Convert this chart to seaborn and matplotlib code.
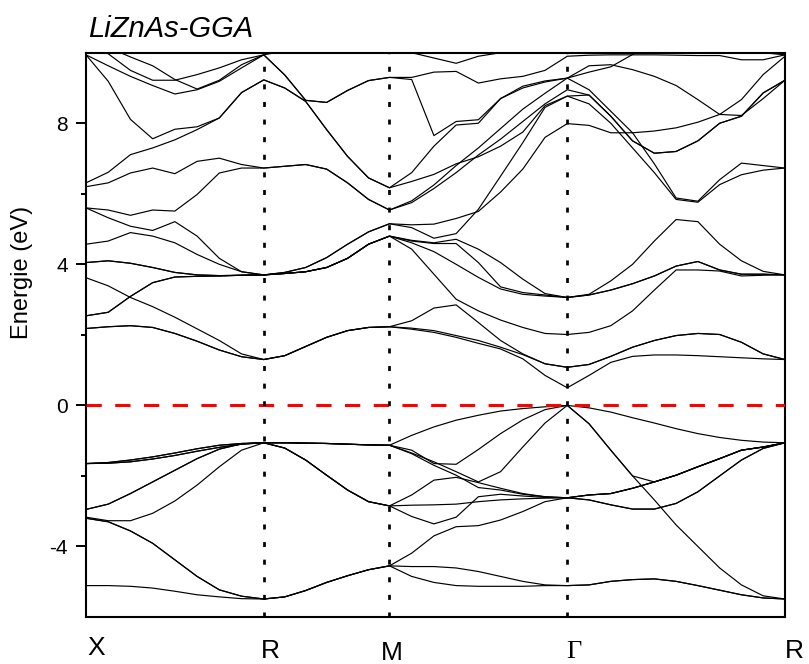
import numpy as np
import pandas as pd
import seaborn as sns
import matplotlib.pyplot as plt

# High symmetry path X-R-M-G-R (units of 2pi/a)
sym_labels = ['X', 'R', 'M', 'Γ', 'R']
sym_pos = [0.0, 0.7071, 1.2071, 1.9142, 2.7802]
n_steps = [8, 6, 8, 10]

# ---- valence bands, segment by segment (eV) ----
# X -> R (9 points)
xr_A = [-1.65, -1.62, -1.55, -1.46, -1.35, -1.23, -1.13, -1.08, -1.06]
xr_B = [-1.65, -1.64, -1.60, -1.52, -1.42, -1.30, -1.19, -1.10, -1.06]
xr_C = [-2.95, -2.80, -2.50, -2.17, -1.84, -1.51, -1.24, -1.09, -1.06]
xr_D = [-3.17, -3.27, -3.27, -3.06, -2.71, -2.26, -1.74, -1.27, -1.06]
xr_E = [-3.20, -3.30, -3.56, -3.91, -4.38, -4.85, -5.23, -5.41, -5.49]
xr_F = [-5.11, -5.11, -5.13, -5.18, -5.27, -5.37, -5.43, -5.48, -5.49]
# R -> M (6 points after R)
rm_top = [-1.06, -1.07, -1.08, -1.10, -1.12, -1.13]
rm_down = [-1.21, -1.55, -1.98, -2.40, -2.73, -2.85]
rm_bot = [-5.43, -5.25, -5.02, -4.83, -4.66, -4.55]
# M -> Gamma (8 points after M)
mg_L1 = [-0.85, -0.61, -0.42, -0.28, -0.16, -0.09, -0.04, 0.00]
mg_L2 = [-1.27, -1.65, -1.67, -1.25, -0.80, -0.41, -0.12, 0.00]
mg_L3 = [-1.35, -1.60, -1.88, -2.17, -1.88, -1.18, -0.50, 0.00]
mg_L4 = [-1.37, -1.70, -1.98, -2.33, -2.40, -2.52, -2.59, -2.62]
mg_L5 = [-2.54, -2.12, -2.04, -2.19, -2.35, -2.50, -2.59, -2.62]
mg_L6 = [-2.83, -2.82, -2.80, -2.73, -2.68, -2.65, -2.63, -2.62]
mg_L7 = [-3.15, -3.36, -3.17, -2.59, -2.52, -2.57, -2.61, -2.62]
mg_L8 = [-4.19, -3.70, -3.44, -3.41, -3.25, -3.01, -2.73, -2.62]
mg_L9 = [-4.57, -4.57, -4.61, -4.71, -4.85, -4.99, -5.09, -5.11]
mg_L10 = [-4.85, -5.02, -5.11, -5.13, -5.13, -5.13, -5.11, -5.11]
# Gamma -> R (10 points after Gamma)
gr_G1 = [-0.07, -0.19, -0.35, -0.50, -0.66, -0.80, -0.91, -0.99, -1.04, -1.06]
gr_G2 = [-0.52, -1.27, -2.00, -2.68, -3.39, -4.00, -4.61, -5.09, -5.40, -5.49]
gr_G2b = [-0.52, -1.27, -2.00, -2.17, -1.98, -1.74, -1.51, -1.27, -1.18, -1.06]
gr_G3 = [-2.54, -2.50, -2.35, -2.17, -1.98, -1.74, -1.51, -1.27, -1.18, -1.06]
gr_G4 = [-2.68, -2.82, -2.94, -2.94, -2.78, -2.45, -2.00, -1.55, -1.22, -1.06]
gr_G5 = [-5.09, -4.99, -4.94, -4.92, -4.99, -5.11, -5.24, -5.37, -5.46, -5.49]

# ---- conduction bands ----
xr_P = [2.18, 2.23, 2.26, 2.21, 2.04, 1.82, 1.57, 1.38, 1.30]
xr_S = [3.62, 3.39, 3.06, 2.80, 2.50, 2.17, 1.84, 1.46, 1.30]
xr_Q = [2.54, 2.64, 3.09, 3.48, 3.64, 3.66, 3.67, 3.69, 3.70]
xr_T = [4.05, 4.10, 4.03, 3.91, 3.77, 3.70, 3.68, 3.69, 3.70]
xr_U = [4.57, 4.66, 4.90, 4.80, 4.61, 4.28, 4.00, 3.79, 3.70]
xr_V = [5.60, 5.32, 5.08, 4.96, 5.21, 4.80, 4.17, 3.79, 3.70]
xr_W = [5.60, 5.54, 5.39, 5.54, 5.51, 5.98, 6.59, 6.73, 6.73]
xr_3 = [6.20, 6.31, 6.59, 6.73, 6.57, 6.92, 7.01, 6.83, 6.73]
xr_2 = [6.31, 6.61, 7.11, 7.30, 7.53, 7.82, 8.15, 8.87, 9.23]
xr_1 = [9.94, 9.19, 8.11, 7.56, 7.83, 7.90, 8.15, 8.87, 9.23]
xr_5 = [9.94, 9.63, 9.33, 9.07, 8.83, 8.95, 9.19, 9.57, 9.94]
xr_6 = [10.20, 9.97, 9.50, 9.22, 9.22, 9.38, 9.57, 9.80, 9.94]
xr_7 = [10.40, 10.15, 9.88, 9.63, 9.24, 8.97, 9.22, 9.66, 9.94]

rm_a = [1.41, 1.67, 1.93, 2.12, 2.21, 2.23]
rm_b = [3.74, 3.79, 3.91, 4.17, 4.57, 4.80]
rm_c = [3.77, 3.91, 4.19, 4.57, 4.92, 5.15]
rm_d = [6.78, 6.83, 6.70, 6.31, 5.84, 5.54]
rm_e = [9.00, 8.62, 7.82, 7.06, 6.45, 6.17]
rm_f = [9.37, 8.65, 8.59, 8.93, 9.21, 9.30]
rm_g = [10.05, 10.10, 10.10, 10.10, 10.10, 10.10]

mg_c1 = [2.16, 2.07, 1.93, 1.76, 1.60, 1.32, 0.85, 0.50]
mg_c2 = [2.19, 2.12, 1.98, 1.84, 1.65, 1.44, 1.18, 1.08]
mg_c3 = [2.40, 2.76, 2.85, 2.35, 1.84, 1.46, 1.18, 1.08]
mg_c4 = [4.43, 3.72, 3.01, 2.68, 2.42, 2.21, 2.04, 2.01]
mg_c5 = [4.61, 4.36, 4.00, 3.63, 3.30, 3.15, 3.10, 3.06]
mg_c6 = [4.66, 4.59, 4.59, 4.05, 3.36, 3.20, 3.13, 3.06]
mg_c7 = [4.68, 4.61, 4.71, 4.43, 4.05, 3.58, 3.17, 3.06]
mg_c8 = [5.04, 4.74, 4.87, 5.56, 6.50, 7.45, 8.45, 8.77]
mg_c9 = [5.12, 5.14, 5.30, 5.50, 6.05, 6.70, 7.60, 7.99]
mg_f1 = [5.80, 6.25, 6.80, 7.30, 7.85, 8.40, 8.85, 9.28]
mg_f2 = [5.75, 6.15, 6.60, 7.10, 7.55, 8.05, 8.55, 8.95]
mg_f3 = [6.60, 7.35, 7.95, 8.00, 8.70, 9.00, 9.17, 9.28]
mg_f4 = [6.35, 6.55, 6.85, 7.05, 7.35, 7.75, 8.50, 8.77]
mg_u1 = [9.24, 7.65, 8.05, 8.10, 8.70, 9.05, 9.20, 9.28]
mg_u2 = [9.30, 9.45, 9.47, 9.14, 9.26, 9.33, 9.50, 9.90]
mg_u3 = [10.00, 9.85, 9.70, 9.90, 10.00, 10.10, 10.10, 10.20]

gr_c1 = [0.85, 1.22, 1.39, 1.43, 1.43, 1.41, 1.38, 1.35, 1.32, 1.30]
gr_c2 = [1.16, 1.39, 1.65, 1.84, 1.98, 2.04, 2.01, 1.79, 1.46, 1.30]
gr_c4 = [2.07, 2.26, 2.68, 3.27, 3.84, 3.84, 3.81, 3.67, 3.69, 3.70]
gr_c5 = [3.13, 3.27, 3.45, 3.67, 3.95, 4.08, 3.84, 3.72, 3.72, 3.70]
gr_c6 = [3.15, 3.53, 4.00, 4.66, 5.27, 5.21, 4.57, 4.10, 3.80, 3.70]
gr_g1 = [8.95, 8.34, 7.73, 6.85, 5.88, 5.79, 6.40, 6.87, 6.80, 6.73]
gr_g1b = [8.55, 8.00, 7.30, 6.60, 5.84, 5.76, 6.26, 6.54, 6.67, 6.73]
gr_g2 = [8.80, 8.20, 7.50, 7.15, 7.20, 7.50, 8.00, 8.20, 8.86, 9.22]
gr_g3 = [7.94, 7.73, 7.73, 7.78, 7.87, 8.03, 8.25, 8.22, 8.70, 9.22]
gr_g5 = [9.63, 9.66, 9.52, 9.33, 9.07, 8.67, 8.25, 8.67, 9.38, 9.90]
gr_g6 = [9.93, 9.94, 9.94, 9.94, 9.93, 9.92, 9.92, 9.80, 9.80, 9.94]
gr_g7 = [9.45, 9.60, 9.95, 10.20, 10.30, 10.30, 10.20, 10.10, 10.00, 9.94]
gr_g8 = [10.30, 10.30, 10.30, 10.30, 10.30, 10.30, 10.30, 10.20, 10.10, 10.00]

bands = [
    xr_A + rm_top + mg_L1 + gr_G1,
    xr_B + rm_top + mg_L2 + gr_G2b,
    xr_A + rm_top + mg_L3 + gr_G2,
    xr_B + rm_top + mg_L4 + gr_G3,
    xr_C + rm_down + mg_L5 + gr_G4,
    xr_D + rm_down + mg_L6 + gr_G3,
    xr_C + rm_down + mg_L7 + gr_G4,
    xr_E + rm_bot + mg_L8 + gr_G3,
    xr_F + rm_bot + mg_L9 + gr_G5,
    xr_E + rm_bot + mg_L10 + gr_G5,
    xr_P + rm_a + mg_c1 + gr_c1,
    xr_S + rm_a + mg_c2 + gr_c2,
    xr_P + rm_a + mg_c3 + gr_c2,
    xr_Q + rm_b + mg_c4 + gr_c4,
    xr_T + rm_b + mg_c5 + gr_c5,
    xr_U + rm_b + mg_c6 + gr_c6,
    xr_V + rm_b + mg_c7 + gr_c5,
    xr_Q + rm_c + mg_c8 + gr_g1b,
    xr_T + rm_c + mg_c9 + gr_g3,
    xr_W + rm_d + mg_f1 + gr_g1,
    xr_3 + rm_d + mg_f2 + gr_g2,
    xr_2 + rm_e + mg_f3 + gr_g5,
    xr_1 + rm_e + mg_f4 + gr_g2,
    xr_5 + rm_f + mg_u1 + gr_g7,
    xr_6 + rm_f + mg_u2 + gr_g6,
    xr_7 + rm_g + mg_u3 + gr_g8,
]

# k grid along the path
k = [sym_pos[0]]
for i, n in enumerate(n_steps):
    k += list(np.linspace(sym_pos[i], sym_pos[i + 1], n + 1)[1:])

rows = []
for b, e in enumerate(bands):
    for kk, ee in zip(k, e):
        rows.append((b, kk, ee))
df = pd.DataFrame(rows, columns=['band', 'k', 'E'])

sns.set_style('ticks')
plt.rcParams['font.family'] = ['Liberation Sans', 'DejaVu Sans']
plt.rcParams['axes.unicode_minus'] = False
plt.rcParams['text.color'] = 'black'
plt.rcParams['axes.labelcolor'] = 'black'
plt.rcParams['ytick.color'] = 'black'
plt.rcParams['xtick.color'] = 'black'

fig = plt.figure(figsize=(8.09, 6.64), dpi=100)
ax = fig.add_axes([0.1063, 0.0708, 0.8640, 0.8498])

sns.lineplot(data=df, x='k', y='E', units='band', estimator=None, sort=False,
             color='black', lw=0.85, legend=False, ax=ax)

# Fermi level and high symmetry lines
ax.axhline(0, color='#ff0000', lw=2.2, ls=(0, (5.0, 4.4)), zorder=3)
for p in sym_pos[1:4]:
    ax.axvline(p, color='black', lw=1.95, ls=(0, (1.85, 4.65)), zorder=3)

ax.set_xlim(sym_pos[0], sym_pos[-1])
ax.set_ylim(-6, 10)
ax.set_yticks([-4, 0, 4, 8])
ax.set_yticks([-2, 2, 6], minor=True)
ax.tick_params(axis='y', which='major', direction='out', length=7, width=1.4,
               labelsize=15, pad=6, colors='black')
ax.tick_params(axis='y', which='minor', direction='out', length=3.5, width=1.4,
               colors='black')
ax.set_xticks([])
ax.set_xlabel('')
for s in ax.spines.values():
    s.set_linewidth(1.5)
    s.set_color('black')

ax.set_ylabel('Energie (eV)', fontsize=17, color='black')
ax.yaxis.set_label_coords(-0.076, 0.611)

ax.text(0.003, 1.028, 'LiZnAs-GGA', transform=ax.transAxes, fontsize=21,
        style='italic', ha='left', va='baseline', color='black')

# k-point labels
label_dx = [7.2, 5.0, 1.4, 5.0, 6.5]
label_dy = [-22.3, -24.5, -26.0, -25.5, -24.5]
for lab, p, dx, dy in zip(sym_labels, sym_pos, label_dx, label_dy):
    fam = ['Liberation Serif'] if lab == 'Γ' else ['Liberation Sans']
    ax.annotate(lab, xy=(p, 0), xycoords=('data', 'axes fraction'),
                xytext=(dx, dy), textcoords='offset points', ha='center',
                va='center', fontsize=19, family=fam, color='black',
                annotation_clip=False)

fig.savefig('out.png', dpi=100)
